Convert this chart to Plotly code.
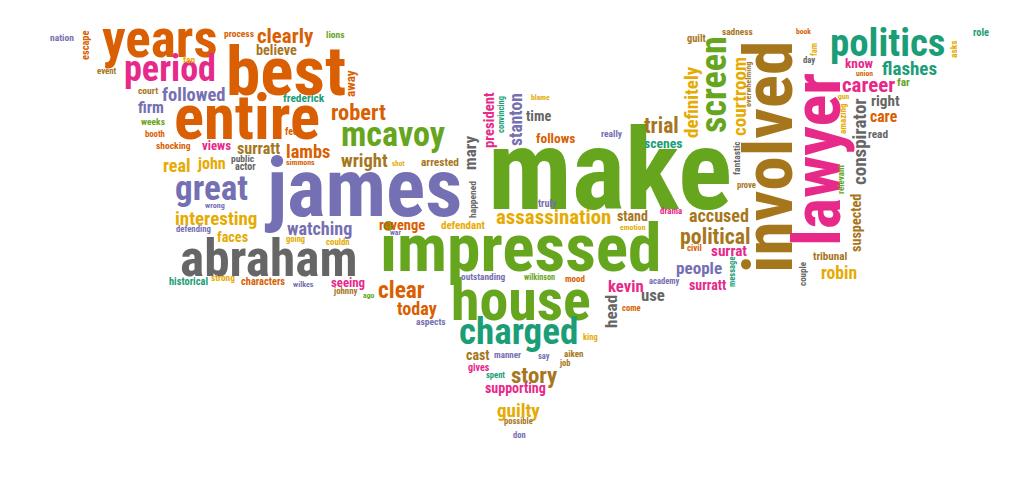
import plotly.graph_objects as go

# dark2 colours used by the cloud
dark2 = {
    "teal": "#1b9e77", "orange": "#d95f02", "purple": "#7570b3", "pink": "#e7298a",
    "green": "#66a61e", "yellow": "#e6ab02", "brown": "#a6761d", "gray": "#666666",
}

words = [
    "years", "best", "period", "entire", "politics", "make", "impressed", "house",
    "charged", "james", "abraham", "great", "mcavoy", "assassination",
    "involved", "lawyer", "screen", "courtroom", "definitely", "conspirator",
    "suspected", "president", "stanton", "mary", "head", "away", "escape",
    "convincing", "overwhelming", "fam", "asks", "amazing", "fantastic",
    "relevant", "message", "couple", "happened",
    "interesting", "watching", "followed", "clearly", "believe", "flashes",
    "career", "know", "right", "care", "read", "accused", "political", "surrat",
    "surratt", "people", "robin", "tribunal", "kevin", "use", "story",
    "supporting", "guilty", "cast", "trial", "scenes", "follows", "time",
    "wright", "arrested", "revenge", "defendant", "clear", "today", "seeing",
    "characters", "historical", "faces", "real", "john", "lambs", "surratt",
    "views", "shocking", "robert", "frederick", "firm", "court", "event",
    "weeks", "booth", "fed", "nation", "process", "lions", "fan", "public",
    "actor", "simmons", "shot", "wrong", "defending", "war", "going", "couldn",
    "strong", "wilkes", "johnny", "ago", "aspects", "blame", "really", "guilt",
    "sadness", "book", "day", "role", "union", "far", "gun", "prove", "drama",
    "emotion", "stand", "civil", "academy", "come", "mood", "wilkinson",
    "outstanding", "truly", "king", "manner", "say", "aiken", "job", "gives",
    "spent", "possible", "don",
]

freq = [
    56, 73, 38, 66, 41, 119, 71, 61,
    39, 86, 54, 37, 36, 22,
    73, 70, 38, 20, 20, 20,
    15, 15.5, 18.5, 18, 18, 14, 11,
    9, 8.5, 9, 10, 9.5, 10,
    9.5, 9, 9.5, 10,
    20, 19, 19.5, 22, 15, 20,
    22, 14, 16, 16.5, 12, 19, 23, 16,
    14.6, 18, 18.5, 11.7, 17.6, 17.7, 24,
    14.7, 20, 14.6, 22.6, 14.4, 14.2, 15,
    19.5, 12, 15.3, 11.5, 24.6, 19, 13.5,
    11, 11, 15, 19, 17, 19.4, 17,
    13.5, 10, 23.6, 12, 16.8, 10, 9.3,
    10, 9.2, 10.6, 10, 10, 10, 10, 10,
    10.5, 8.3, 7.5, 8.5, 9.2, 8, 9, 9.3,
    9.8, 8.5, 9.3, 8.2, 10, 8, 10, 11,
    9.8, 8, 9.2, 11, 8, 12, 8, 9, 9.4,
    8.2, 14.6, 9.4, 9, 9, 9.4, 8.6,
    9.8, 10.7, 9, 9.5, 9, 9.5, 9, 10.5,
    9, 9, 9,
]

word_x = [
    152, 278, 162, 239, 879, 602, 513, 513,
    510, 355, 260, 203, 385, 545,
    760, 809, 706, 731, 683, 851,
    848, 481, 508, 462, 603, 342, 77,
    493, 740, 806, 945, 835, 728,
    833, 724, 795, 464,
    208, 311, 186, 277, 268, 901,
    860, 851, 877, 876, 870, 711, 707, 721,
    699, 691, 831, 822, 618, 645, 526,
    507, 510, 470, 653, 655, 547, 530,
    356, 432, 394, 455, 393, 409, 340,
    255, 180, 224, 169, 203, 300, 250,
    208, 165, 350, 296, 143, 140, 99,
    145, 147, 283, 54, 231, 327, 181, 235,
    237, 292, 390, 207, 185, 387, 287, 330,
    215, 295, 337, 361, 423, 532, 604, 688,
    729, 795, 801, 973, 856, 895, 836, 738, 663,
    625, 624, 686, 656, 623, 567, 531,
    475, 539, 582, 499, 536, 565, 557, 471,
    487, 510, 511,
]

word_y = [
    31, 63, 61, 109, 34, 162, 239, 292,
    323, 180, 250, 180, 126, 209,
    149, 152, 77, 89, 94, 134,
    215, 112, 112, 145, 304, 76, 37,
    107, 77, 42, 41, 111, 150,
    172, 264, 266, 192,
    210, 220, 87, 28, 42, 60,
    77, 55, 93, 108, 126, 207, 228, 243,
    277, 260, 265, 248, 278, 287, 367,
    380, 402, 347, 117, 135, 130, 108,
    153, 154, 217, 217, 282, 300, 274,
    273, 273, 229, 157, 155, 143, 140,
    137, 137, 104, 90, 99, 82, 63,
    113, 126, 123, 29, 25, 26, 51, 150,
    158, 154, 155, 197, 221, 224, 231, 234,
    269, 276, 283, 287, 313, 89, 125, 30,
    23, 23, 52, 24, 65, 74, 88, 177, 203,
    219, 208, 240, 273, 300, 271, 269,
    268, 195, 329, 347, 348, 346, 355, 359,
    367, 413, 427,
]

colour = [
    "orange", "orange", "pink", "orange", "teal", "green", "green", "green",
    "teal", "purple", "gray", "purple", "green", "yellow",
    "brown", "pink", "green", "yellow", "yellow", "gray",
    "brown", "pink", "purple", "gray", "gray", "orange", "orange",
    "teal", "brown", "yellow", "yellow", "yellow", "gray",
    "green", "teal", "gray", "gray",
    "yellow", "purple", "purple", "orange", "brown", "teal",
    "pink", "pink", "gray", "orange", "gray", "brown", "brown", "pink",
    "pink", "purple", "yellow", "brown", "pink", "gray", "brown",
    "pink", "yellow", "brown", "brown", "teal", "orange", "gray",
    "brown", "brown", "orange", "yellow", "orange", "orange", "pink",
    "orange", "teal", "yellow", "yellow", "yellow", "orange", "brown",
    "pink", "orange", "orange", "teal", "purple", "brown", "brown",
    "green", "orange", "orange", "purple", "orange", "green", "yellow", "gray",
    "gray", "orange", "yellow", "purple", "purple", "purple", "yellow", "yellow",
    "yellow", "purple", "brown", "green", "purple", "yellow", "purple", "brown",
    "brown", "orange", "gray", "teal", "orange", "green", "yellow", "brown", "pink",
    "yellow", "brown", "orange", "purple", "orange", "orange", "green",
    "purple", "purple", "yellow", "purple", "purple", "brown", "brown", "pink",
    "teal", "brown", "purple",
]

# words printed bottom-to-top
upright = set(range(14, 37))

fig = go.Figure()
fig.add_trace(go.Scatter(x=[0, 1023], y=[0, 504], mode="markers",
                         marker=dict(opacity=0), hoverinfo="skip"))

for i, w in enumerate(words):
    fig.add_annotation(
        x=word_x[i], y=word_y[i], text=w, showarrow=False,
        xanchor="center", yanchor="middle",
        textangle=-90 if i in upright else 0,
        font=dict(family="Liberation Sans Narrow, Roboto Condensed, DejaVu Sans Condensed, Liberation Sans",
                  size=round(freq[i] * 0.95, 1), color=dark2[colour[i]], weight="bold"),
    )

fig.update_xaxes(range=[0, 1023], visible=False)
fig.update_yaxes(range=[504, 0], visible=False)
fig.update_layout(
    width=1023, height=504, margin=dict(l=0, r=0, t=0, b=0),
    plot_bgcolor="white", paper_bgcolor="white", showlegend=False,
)

fig.write_html("out.html")
